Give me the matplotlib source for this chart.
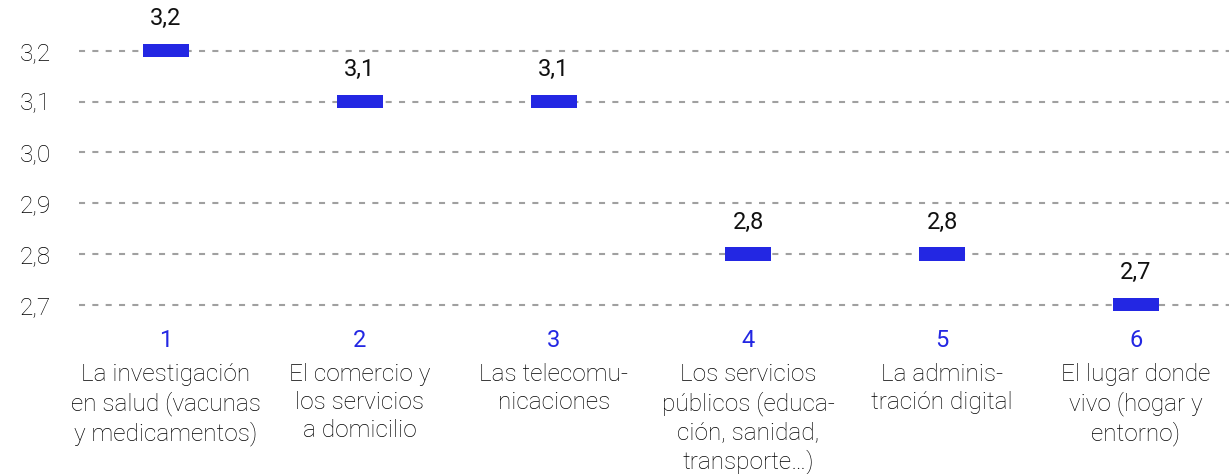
import matplotlib.pyplot as plt

numeros = ["1", "2", "3", "4", "5", "6"]
etiquetas = [
    "La investigación\nen salud (vacunas\ny medicamentos)",
    "El comercio y\nlos servicios\na domicilio",
    "Las telecomu-\nnicaciones",
    "Los servicios\npúblicos (educa-\nción, sanidad,\ntransporte…)",
    "La adminis-\ntración digital",
    "El lugar donde\nvivo (hogar y\nentorno)",
]
valores = [3.2, 3.1, 3.1, 2.8, 2.8, 2.7]
yticks = [2.7, 2.8, 2.9, 3.0, 3.1, 3.2]

azul = "#2327e3"

plt.rcParams['font.family'] = ['Roboto', 'DejaVu Sans']

fig = plt.figure(figsize=(12.29, 4.74), dpi=100)
ax = fig.add_axes([79 / 1229, 0, 1 - 79 / 1229, 1])

x = list(range(len(valores)))
alto = 0.026
ax.bar(x, [alto] * len(valores), bottom=[v - alto / 2 for v in valores],
       width=0.24, color=azul, zorder=3)

for xi, v in zip(x, valores):
    ax.annotate(f"{v:.1f}".replace(".", ","), (xi, v), xytext=(0, 23),
                textcoords="offset points", ha="center", va="center",
                fontsize=17, color="#111111")

for xi, n, e in zip(x, numeros, etiquetas):
    ax.text(xi, 2.629, n, ha="center", va="center", fontsize=17,
            color=azul)
    ax.text(xi, 2.585, e, ha="center", va="top", fontsize=17.6,
            color="black", fontweight="light", linespacing=1.27)

ax.set_xlim(-0.448, 5.479)
ax.set_ylim(2.367, 3.300)
ax.set_yticks(yticks)
ax.set_yticklabels([f"{t:.1f}".replace(".", ",") for t in yticks],
                   fontsize=17.6, fontweight="light", color="black")
ax.tick_params(axis="y", length=0, pad=20)
ax.set_xticks([])
ax.yaxis.grid(True, linestyle=(0, (2.9, 3.5)), color="#a0a0a0", linewidth=1.5)
for s in ax.spines.values():
    s.set_visible(False)

fig.savefig("out.png", dpi=100)
